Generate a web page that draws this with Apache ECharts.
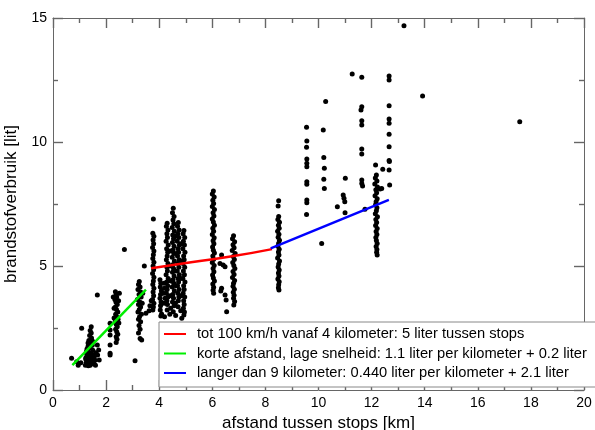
<!DOCTYPE html>
<html>
<head>
<meta charset="utf-8">
<script src="https://cdn.jsdelivr.net/npm/echarts@6/dist/echarts.min.js"></script>
<style>
  html, body { margin: 0; padding: 0; background: #fff; }
  #chart { width: 595px; height: 430px; }
</style>
</head>
<body>
<div id="chart"></div>
<script>
const ptsShort = [
  [0.70, 1.28], [0.89, 1.14], [0.95, 1.0], [1.05, 1.1], [1.08, 2.49], [1.67, 3.83],
  [1.67, 1.81], [1.72, 1.61], [1.68, 1.41], [1.74, 1.21], [1.6, 1.0], [1.62, 1.5],
  [1.22, 1.0], [1.25, 1.1], [1.28, 1.2], [1.3, 1.05], [1.33, 0.98], [1.36, 1.12],
  [1.4, 1.0], [1.45, 1.08], [1.5, 1.15], [1.55, 1.05], [1.24, 1.3], [1.27, 1.45],
  [1.3, 1.6], [1.32, 1.75], [1.35, 1.35], [1.38, 1.5], [1.4, 1.7], [1.42, 1.9],
  [1.45, 2.1], [1.44, 2.3], [1.44, 2.55], [1.4, 2.4], [1.38, 2.2], [1.35, 2.0],
  [1.32, 1.9], [1.3, 1.4], [1.28, 1.65], [1.48, 1.8], [1.5, 1.6], [1.52, 1.4],
  [1.55, 1.3], [1.58, 1.2], [1.47, 2.0], [1.36, 1.8], [1.26, 1.55], [1.23, 1.25],
  [1.34, 1.22], [1.42, 1.3], [1.46, 1.45], [1.5, 1.95]
]
const pts2km = [
  [2.15, 2.69], [2.15, 2.42], [2.15, 2.22], [2.15, 1.81], [2.15, 1.48], [2.15, 1.41],
  [2.35, 3.96], [2.38, 3.85], [2.4, 3.75], [2.33, 3.65], [2.37, 3.55], [2.42, 3.45],
  [2.35, 3.35], [2.39, 3.25], [2.44, 3.15], [2.36, 3.05], [2.4, 2.95], [2.45, 2.85],
  [2.34, 2.75], [2.38, 2.65], [2.42, 2.55], [2.36, 2.45], [2.4, 2.35], [2.44, 2.25],
  [2.38, 2.15], [2.41, 2.05], [2.38, 1.92], [2.47, 3.6], [2.3, 3.3], [2.48, 2.7],
  [2.3, 2.9], [2.27, 3.75], [2.5, 3.9], [2.69, 5.67]
]
const pts3km = [
  [3.09, 1.18], [3.5, 3.09], [3.44, 5.0], [3.25, 4.37], [3.22, 4.25], [3.28, 4.15],
  [3.2, 4.05], [3.3, 3.95], [3.24, 3.85], [3.32, 3.75], [3.18, 3.65], [3.27, 3.55],
  [3.22, 3.45], [3.3, 3.35], [3.25, 3.25], [3.2, 3.15], [3.33, 3.05], [3.26, 2.95],
  [3.22, 2.85], [3.3, 2.75], [3.24, 2.6], [3.28, 2.45], [3.22, 2.3], [3.28, 2.08],
  [3.34, 2.02], [3.38, 3.9], [3.36, 3.5],
  [3.78, 6.9], [3.76, 6.32], [3.8, 6.2], [3.77, 6.05], [3.79, 5.9], [3.75, 5.75],
  [3.8, 5.6], [3.78, 5.45], [3.76, 5.3], [3.8, 5.15], [3.77, 5.0], [3.79, 4.85],
  [3.75, 4.7], [3.8, 4.55], [3.78, 4.4], [3.76, 4.25], [3.8, 4.1], [3.77, 3.95],
  [3.79, 3.8], [3.75, 3.65], [3.8, 3.5], [3.78, 3.35], [3.76, 3.23], [3.65, 3.4],
  [3.62, 3.2], [3.7, 3.6]
]
const pts4km = [
  [4.03, 4.45], [4.06, 4.3], [4.04, 4.15], [4.08, 4.0], [4.05, 3.85], [4.03, 3.7],
  [4.07, 3.55], [4.05, 3.4], [4.04, 3.23], [4.09, 3.06], [4.06, 2.98],
  [4.3, 6.72], [4.27, 6.6], [4.33, 6.45], [4.29, 6.3], [4.31, 6.15], [4.26, 6.0],
  [4.34, 5.85], [4.28, 5.7], [4.32, 5.55], [4.3, 5.4], [4.27, 5.25], [4.33, 5.1],
  [4.29, 4.95], [4.31, 4.8], [4.26, 4.65], [4.34, 4.5], [4.28, 4.35], [4.32, 4.2],
  [4.3, 4.05], [4.27, 3.9], [4.33, 3.75], [4.29, 3.6], [4.31, 3.45], [4.3, 3.23],
  [4.53, 7.33], [4.5, 7.15], [4.56, 7.0], [4.52, 6.85], [4.55, 6.7], [4.49, 6.55],
  [4.57, 6.4], [4.51, 6.25], [4.54, 6.1], [4.5, 5.95], [4.56, 5.8], [4.52, 5.65],
  [4.55, 5.5], [4.49, 5.35], [4.57, 5.2], [4.51, 5.05], [4.54, 4.9], [4.5, 4.75],
  [4.56, 4.6], [4.52, 4.45], [4.55, 4.3], [4.49, 4.15], [4.57, 4.0], [4.51, 3.85],
  [4.54, 3.7], [4.5, 3.55], [4.56, 3.4], [4.53, 3.16],
  [4.72, 6.75], [4.69, 6.6], [4.75, 6.45], [4.7, 6.3], [4.74, 6.15], [4.68, 6.0],
  [4.76, 5.85], [4.71, 5.7], [4.73, 5.55], [4.69, 5.4], [4.75, 5.25], [4.7, 5.1],
  [4.74, 4.95], [4.68, 4.8], [4.76, 4.65], [4.71, 4.5], [4.73, 4.35], [4.69, 4.2],
  [4.75, 4.05], [4.7, 3.9], [4.74, 3.75], [4.72, 3.6], [4.71, 3.36],
  [4.93, 6.43], [4.9, 6.3], [4.96, 6.15], [4.91, 6.0], [4.95, 5.85], [4.89, 5.7],
  [4.97, 5.55], [4.92, 5.4], [4.94, 5.25], [4.9, 5.1], [4.96, 4.95], [4.91, 4.8],
  [4.95, 4.65], [4.89, 4.5], [4.97, 4.35], [4.92, 4.2], [4.94, 4.05], [4.9, 3.9],
  [4.96, 3.75], [4.92, 3.6], [4.94, 3.45], [4.91, 3.3], [4.95, 3.15], [4.93, 3.02],
  [4.85, 2.89],
  [4.18, 4.3], [4.2, 4.1], [4.16, 3.9], [4.22, 3.7], [4.18, 3.5], [4.42, 5.6],
  [4.4, 5.0], [4.44, 4.4], [4.41, 3.8], [4.43, 3.3], [4.62, 6.2], [4.64, 5.5],
  [4.6, 4.8], [4.63, 4.2], [4.61, 3.5], [4.82, 5.9], [4.84, 5.2], [4.8, 4.5],
  [4.83, 3.8], [4.81, 3.2], [4.2, 2.95], [4.4, 3.05], [4.62, 3.0]
]
const pts6km = [
  [6.04, 8.02], [6.0, 7.9], [6.07, 7.78], [6.02, 7.65], [6.05, 7.52], [6.0, 7.4],
  [6.08, 7.28], [6.03, 7.15], [6.06, 7.02], [6.0, 6.9], [6.04, 6.77], [6.08, 6.64],
  [6.02, 6.52], [6.05, 6.4], [6.0, 6.27], [6.07, 6.14], [6.03, 6.02], [6.06, 5.9],
  [6.01, 5.77], [6.04, 5.64], [6.08, 5.52], [6.02, 5.4], [6.05, 5.27], [6.0, 5.14],
  [6.07, 5.02], [6.03, 4.9], [6.06, 4.77], [6.01, 4.64], [6.04, 4.52], [6.08, 4.4],
  [6.02, 4.27], [6.05, 4.14], [6.03, 4.02], [6.05, 3.9],
  [6.35, 5.44], [6.29, 5.1], [6.41, 5.04], [6.48, 4.97], [6.35, 4.1], [6.32, 3.99],
  [6.48, 3.83], [6.52, 3.63], [6.54, 3.16],
  [6.8, 6.22], [6.76, 6.1], [6.84, 5.98], [6.78, 5.86], [6.82, 5.74], [6.75, 5.62],
  [6.86, 5.5], [6.79, 5.38], [6.83, 5.26], [6.77, 5.14], [6.81, 5.02], [6.85, 4.9],
  [6.78, 4.78], [6.82, 4.66], [6.76, 4.54], [6.84, 4.42], [6.8, 4.3], [6.78, 4.18],
  [6.83, 4.06], [6.79, 3.94], [6.82, 3.82], [6.8, 3.7], [6.84, 3.57], [6.81, 3.43]
]
const pts8km = [
  [8.5, 7.63], [8.48, 7.42], [8.5, 7.0], [8.47, 6.88], [8.53, 6.76], [8.49, 6.64],
  [8.52, 6.52], [8.46, 6.4], [8.51, 6.28], [8.48, 6.16], [8.53, 6.04], [8.5, 5.92],
  [8.47, 5.8], [8.52, 5.68], [8.49, 5.56], [8.51, 5.44], [8.46, 5.32], [8.53, 5.2],
  [8.5, 5.08], [8.48, 4.96], [8.52, 4.84], [8.49, 4.72], [8.51, 4.6], [8.47, 4.48],
  [8.52, 4.36], [8.5, 4.24], [8.49, 4.12], [8.51, 4.03]
]
const ptsLong = [
  [9.55, 10.59], [9.56, 10.04], [9.55, 9.79], [9.56, 9.31], [9.56, 9.14], [9.56, 9.0],
  [9.56, 8.4], [9.56, 8.3], [9.56, 7.66], [9.56, 7.55], [9.55, 7.08],
  [10.27, 11.63], [10.18, 10.48], [10.2, 9.38], [10.22, 8.94], [10.2, 8.5], [10.22, 8.13],
  [10.12, 5.91], [10.71, 7.39], [10.93, 7.86], [10.96, 7.73], [10.99, 7.59], [11.0, 7.15],
  [11.01, 8.54], [11.27, 12.74],
  [11.63, 12.61], [11.63, 11.42], [11.6, 11.29], [11.63, 10.86], [11.63, 10.69],
  [11.63, 9.72], [11.63, 9.52], [11.63, 8.47], [11.63, 8.33], [11.66, 8.23], [11.75, 7.29],
  [12.66, 12.66], [12.66, 12.5], [12.66, 11.46], [12.66, 10.93], [12.66, 10.76],
  [12.66, 10.31], [12.66, 9.81], [12.66, 9.25], [12.67, 9.21], [12.66, 8.87], [12.68, 8.27],
  [12.15, 9.07], [12.42, 8.9], [12.38, 8.13], [12.32, 8.1],
  [12.18, 8.67], [12.14, 8.55], [12.2, 8.43], [12.12, 8.31], [12.22, 8.19], [12.16, 8.07],
  [12.19, 7.95], [12.13, 7.83], [12.21, 7.71], [12.17, 7.59], [12.15, 7.47], [12.2, 7.35],
  [12.18, 7.23], [12.14, 7.11], [12.22, 6.99], [12.16, 6.87], [12.19, 6.75], [12.15, 6.63],
  [12.21, 6.51], [12.17, 6.39], [12.2, 6.27], [12.16, 6.15], [12.18, 6.03], [12.21, 5.91],
  [12.17, 5.79], [12.2, 5.67], [12.19, 5.55], [12.21, 5.44],
  [13.22, 14.69], [13.92, 11.85], [17.58, 10.82]
]

// fitlijnen
const fitRed = [[3.7, 4.91], [5.2, 5.15], [6.8, 5.4], [8.25, 5.68]]
const fitGreen = [[0.73, 1.0], [3.5, 4.05]]
const fitBlue = [[8.2, 5.71], [12.65, 7.67]]

const fitNames = [
  'tot 100 km/h vanaf 4 kilometer: 5 liter tussen stops',
  'korte afstand, lage snelheid: 1.1 liter per kilometer + 0.2 liter',
  'langer dan 9 kilometer: 0.440 liter per kilometer + 2.1 liter'
]
const xTicks = [0, 20, 2]
const yTicks = [0, 15, 5]

const chart = echarts.init(document.getElementById('chart'))
const FONT = '"Liberation Sans", Arial, sans-serif'
const frame = '#666'

// assen rondom, ticks naar binnen
const tickCfg = {
  axisLine: { show: true, onZero: false, lineStyle: { color: frame, width: 1 } },
  axisTick: { show: true, inside: true, length: 10, lineStyle: { color: frame, width: 1.4 } },
  minorTick: { show: true, splitNumber: 2, length: 5, lineStyle: { color: frame, width: 1.4 } },
  splitLine: { show: false }
}

const allPts = [].concat(ptsShort, pts2km, pts3km, pts4km, pts6km, pts8km, ptsLong)

chart.setOption({
  animation: false,
  backgroundColor: '#fff',
  textStyle: { fontFamily: FONT },
  grid: { left: 53, right: 11, top: 18, bottom: 40, containLabel: false, outerBoundsMode: 'none' },
  legend: {
    data: fitNames,
    orient: 'vertical',
    left: 159,
    top: 322,
    icon: 'rect',
    itemWidth: 22,
    itemHeight: 2,
    itemGap: 3.5,
    padding: [4, 10, 6, 5],
    backgroundColor: '#fff',
    borderColor: '#888',
    borderWidth: 1,
    borderRadius: 0,
    selectedMode: false,
    textStyle: { fontFamily: FONT, fontSize: 14.7, color: '#000', lineHeight: 16, padding: [0, 0, 0, 6] }
  },
  xAxis: [
    Object.assign({
      type: 'value', min: xTicks[0], max: xTicks[1], interval: xTicks[2],
      name: 'afstand tussen stops [km]', nameLocation: 'middle', nameGap: 25,
      nameTextStyle: { fontFamily: FONT, fontSize: 17, color: '#000' },
      axisLabel: { fontFamily: FONT, fontSize: 14, color: '#000', margin: 6 }
    }, tickCfg),
    Object.assign({
      type: 'value', position: 'top', min: xTicks[0], max: xTicks[1], interval: xTicks[2],
      axisLabel: { show: false }
    }, tickCfg)
  ],
  yAxis: [
    Object.assign({
      type: 'value', min: yTicks[0], max: yTicks[1], interval: yTicks[2],
      name: 'brandstofverbruik [lit]', nameLocation: 'middle', nameGap: 33,
      nameTextStyle: { fontFamily: FONT, fontSize: 17, color: '#000' },
      axisLabel: { fontFamily: FONT, fontSize: 14, color: '#000', margin: 6 }
    }, tickCfg),
    Object.assign({
      type: 'value', position: 'right', min: yTicks[0], max: yTicks[1], interval: yTicks[2],
      axisLabel: { show: false }
    }, tickCfg)
  ],
  series: [
    {
      type: 'scatter',
      data: allPts,
      symbolSize: 5,
      itemStyle: { color: '#000', opacity: 1 },
      silent: true,
      z: 2
    },
    {
      name: fitNames[0], type: 'line', data: fitRed, symbol: 'none', smooth: true,
      lineStyle: { color: '#ff0000', width: 2.5 }, itemStyle: { color: '#ff0000' }, z: 3
    },
    {
      name: fitNames[1], type: 'line', data: fitGreen, symbol: 'none',
      lineStyle: { color: '#00ee00', width: 2.5 }, itemStyle: { color: '#00ee00' }, z: 3
    },
    {
      name: fitNames[2], type: 'line', data: fitBlue, symbol: 'none',
      lineStyle: { color: '#0000ff', width: 2.5 }, itemStyle: { color: '#0000ff' }, z: 3
    }
  ]
})
</script>
</body>
</html>
